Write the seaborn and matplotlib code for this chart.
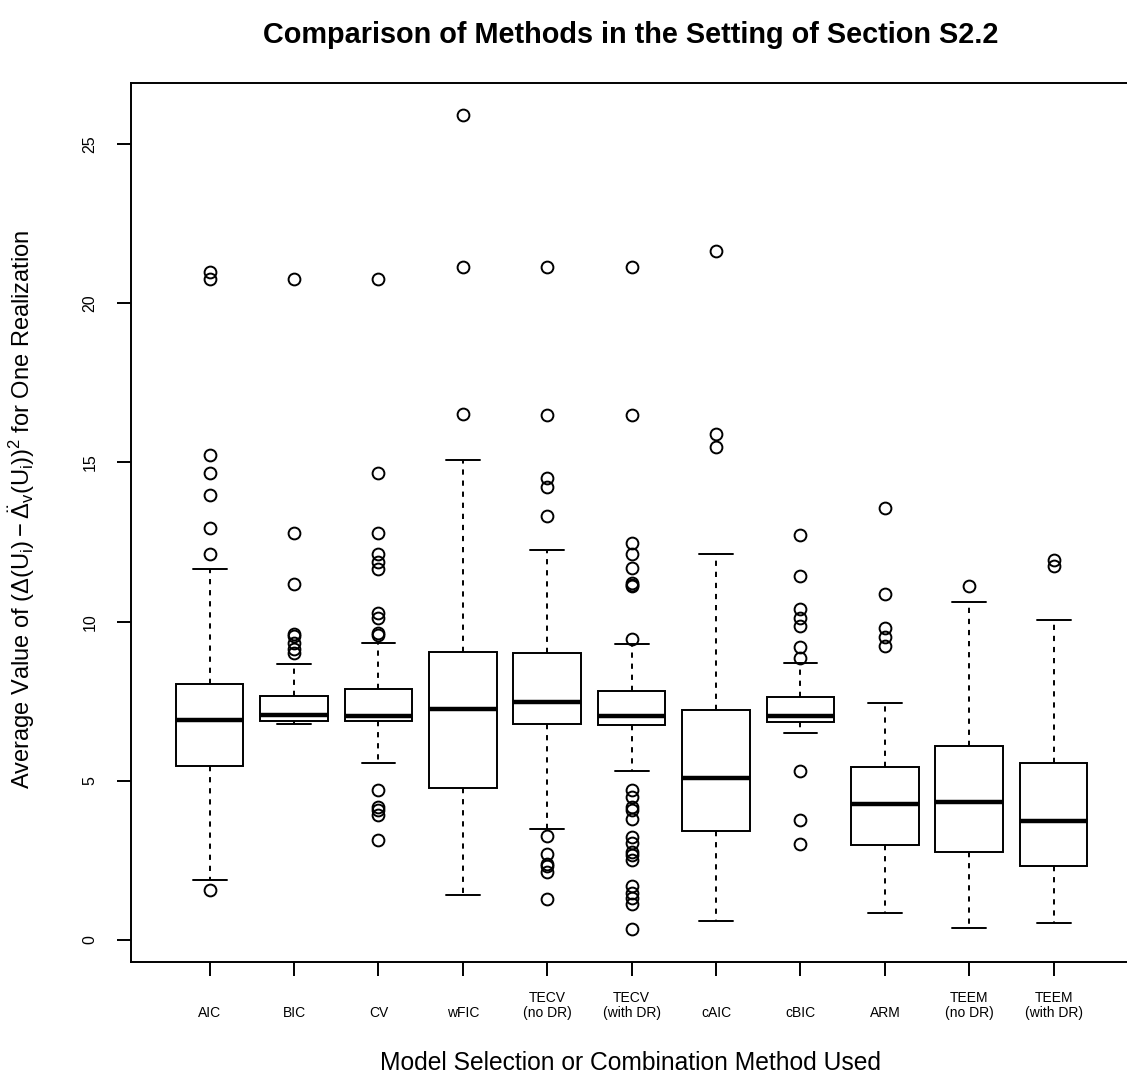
import numpy as np
import pandas as pd
import matplotlib
matplotlib.use("Agg")
import matplotlib.pyplot as plt
import seaborn as sns

# Box summaries (one entry per method)
methods = ["AIC", "BIC", "CV", "wFIC", "TECV (no DR)", "TECV (with DR)",
           "cAIC", "cBIC", "ARM", "TEEM (no DR)", "TEEM (with DR)"]
tick_labels = ["AIC", "BIC", "CV", "wFIC", "TECV\n(no DR)", "TECV\n(with DR)",
               "cAIC", "cBIC", "ARM", "TEEM\n(no DR)", "TEEM\n(with DR)"]

q1 = [5.46, 6.87, 6.87, 4.78, 6.80, 6.75, 3.43, 6.85, 2.97, 2.77, 2.31]
median = [6.92, 7.08, 7.04, 7.25, 7.48, 7.04, 5.08, 7.03, 4.28, 4.35, 3.75]
q3 = [8.05, 7.66, 7.88, 9.05, 9.01, 7.81, 7.24, 7.62, 5.44, 6.08, 5.56]
whisker_lo = [1.88, 6.78, 5.57, 1.40, 3.50, 5.32, 0.60, 6.51, 0.85, 0.37, 0.54]
whisker_hi = [11.64, 8.68, 9.32, 15.08, 12.25, 9.31, 12.14, 8.70, 7.44, 10.62, 10.05]

outliers_low = [
    [1.56],
    [],
    [4.71, 4.18, 4.10, 3.93, 3.15],
    [],
    [3.27, 2.70, 2.38, 2.32, 2.14, 1.28],
    [4.72, 4.49, 4.18, 4.07, 3.81, 3.25, 3.04, 2.78, 2.67, 2.50, 1.71, 1.49, 1.32, 1.13, 0.35],
    [],
    [5.31, 3.76, 3.01],
    [],
    [],
    [],
]
outliers_high = [
    [12.11, 12.93, 13.97, 14.66, 15.23, 20.76, 20.97],
    [9.02, 9.14, 9.32, 9.55, 9.62, 11.18, 12.80, 20.76],
    [9.58, 9.63, 10.13, 10.26, 11.65, 11.88, 12.11, 12.80, 14.66, 20.76],
    [16.51, 21.15, 25.92],
    [13.33, 14.23, 14.51, 16.50, 21.15],
    [9.45, 11.12, 11.16, 11.20, 11.70, 12.14, 12.48, 16.50, 21.15],
    [15.48, 15.88, 21.64],
    [8.86, 9.22, 9.87, 10.10, 10.39, 11.43, 12.71],
    [9.23, 9.52, 9.80, 10.86, 13.58],
    [11.12],
    [11.76, 11.95],
]


def sample_from_summary(lo_out, wlo, a, m, b, whi, hi_out):
    # sorted sample of 4k+1 values whose quartiles are exactly a, m, b
    k = max(len(lo_out), len(hi_out)) + 2
    low = sorted(lo_out) + [wlo]
    vals = low + [a] * (k + 1 - len(low))
    vals += [m] * k
    vals += [b] * k
    top = [whi] + sorted(hi_out)
    vals += [b] * (k - len(top)) + top
    return vals


rows = []
for i, name in enumerate(methods):
    vals = sample_from_summary(outliers_low[i], whisker_lo[i], q1[i], median[i],
                               q3[i], whisker_hi[i], outliers_high[i])
    rows += [(name, v) for v in vals]
df = pd.DataFrame(rows, columns=["method", "value"])

sns.set_style("white")
plt.rcParams["font.family"] = ["Liberation Sans", "DejaVu Sans"]
plt.rcParams["mathtext.fontset"] = "custom"
plt.rcParams["mathtext.rm"] = "Liberation Sans"
plt.rcParams["mathtext.it"] = "Liberation Sans"
plt.rcParams["mathtext.bf"] = "Liberation Sans:bold"
for key in ["text.color", "axes.labelcolor", "xtick.color", "ytick.color"]:
    plt.rcParams[key] = "black"

W, H = 1127, 1083
fig = plt.figure(figsize=(W / 100, H / 100), dpi=100)
ax = fig.add_axes([131 / W, 121 / H, 996 / W, 879 / H])

lw = 1.4
sns.boxplot(data=df, x="method", y="value", order=methods, color="white",
            linecolor="black", linewidth=lw, width=0.8, whis=1.5, ax=ax,
            medianprops=dict(color="black", linewidth=3.2),
            whiskerprops=dict(color="black", linewidth=lw, linestyle=(0, (2.7, 3.0))),
            capprops=dict(color="black", linewidth=lw),
            flierprops=dict(marker="o", markersize=8.5, markerfacecolor="none",
                            markeredgecolor="black", markeredgewidth=lw))

ax.set_xlim(-0.932, 10.869)
ax.set_ylim(-0.69, 26.92)
ax.set_yticks([0, 5, 10, 15, 20, 25])
ax.set_yticklabels(["0", "5", "10", "15", "20", "25"], rotation=90, va="center")
ax.set_xticks(range(len(methods)))
ax.set_xticklabels(tick_labels, va="bottom", linespacing=1.15)
ax.tick_params(axis="both", direction="out", length=10, width=lw, color="black",
               labelsize=10, bottom=True, left=True)
ax.tick_params(axis="y", labelsize=11.5)
ax.tick_params(axis="x", pad=32)
ax.tick_params(axis="y", pad=14)

for side in ["left", "top", "bottom"]:
    ax.spines[side].set_color("black")
    ax.spines[side].set_linewidth(lw)
ax.spines["right"].set_visible(False)

ax.set_xlabel("Model Selection or Combination Method Used", fontsize=17.7)
ax.xaxis.set_label_coords((631 - 131) / 996, (962 - 1063) / 879)
ax.xaxis.label.set_va("center")
ax.set_ylabel(r"Average Value of $(\Delta(U_i) - \ddot{\Delta}_v(U_i))^2$ for One Realization",
              fontsize=17)
ax.yaxis.set_label_coords((22 - 131) / 996, (962 - 509) / 879)
ax.yaxis.label.set_va("center")

fig.text(631 / W, 1 - 43 / H, "Comparison of Methods in the Setting of Section S2.2",
         ha="center", va="baseline", fontsize=20.8, fontweight="bold")

fig.savefig("out.png", dpi=100)
